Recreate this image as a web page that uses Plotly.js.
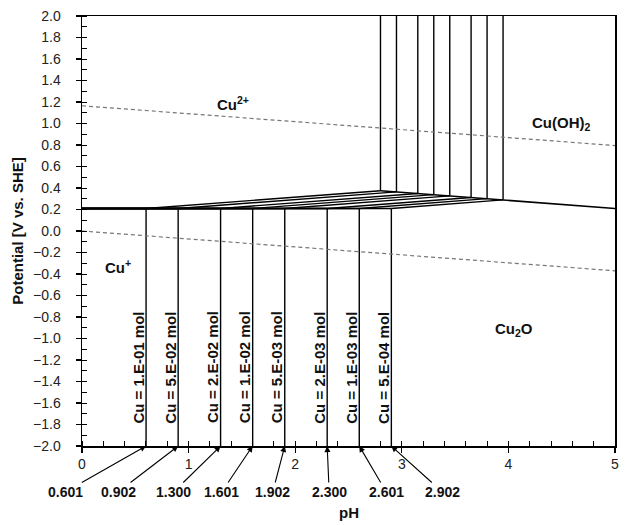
<!DOCTYPE html>
<html>
<head>
<meta charset="utf-8">
<script src="https://cdn.plot.ly/plotly-3.0.1.min.js"></script>
<style>html,body{margin:0;padding:0;background:#fff;}#chart{width:625px;height:525px;}</style>
</head>
<body>
<div id="chart"></div>
<script>
// ---- data ----
const concLabels = ['Cu = 1.E-01 mol','Cu = 5.E-02 mol','Cu = 2.E-02 mol','Cu = 1.E-02 mol',
                    'Cu = 5.E-03 mol','Cu = 2.E-03 mol','Cu = 1.E-03 mol','Cu = 5.E-04 mol'];
const pHCu2O = [0.601, 0.902, 1.300, 1.601, 1.902, 2.300, 2.601, 2.902];   // Cu+ / Cu2O boundary
const pHLabels = ['0.601','0.902','1.300','1.601','1.902','2.300','2.601','2.902'];
const pHHyd  = [2.80, 2.95, 3.15, 3.30, 3.45, 3.65, 3.80, 3.95];            // Cu2+ / Cu(OH)2 boundary
const eVertex = [0.375, 0.364, 0.349, 0.338, 0.327, 0.312, 0.301, 0.290];  // Cu2+/Cu(OH)2/Cu2O points
const eCuPlus = 0.21;                                                      // Cu2+ / Cu+ boundary
const hydEndPH = 5, hydEndE = 0.21;                                        // Cu(OH)2/Cu2O line end
const waterPH = [0, 5];
const o2E = [1.165, 0.795];
const h2E = [0.0, -0.37];
const eMin = -2.0, eMax = 2.0;
const regionNames = ['Cu<sup>2+</sup>', 'Cu(OH)<sub>2</sub>', 'Cu<sup>+</sup>', 'Cu<sub>2</sub>O'];
const regionPH = [1.42, 4.5, 0.34, 4.05];
const regionE  = [1.19, 1.0, -0.33, -0.92];
const xTickVals = [0, 1, 2, 3, 4, 5];

// ---- build boundary lines ----
const lx = [], ly = [];
function seg(x0, y0, x1, y1){ lx.push(x0, x1, null); ly.push(y0, y1, null); }
for (let i = 0; i < pHCu2O.length; i++) {
  seg(0, eCuPlus, pHCu2O[i], eCuPlus);
  seg(pHCu2O[i], eMin, pHCu2O[i], eCuPlus);
  seg(pHCu2O[i], eCuPlus, pHHyd[i], eVertex[i]);
  seg(pHHyd[i], eVertex[i], pHHyd[i], eMax);
}
const hx = pHHyd.concat([hydEndPH]);
const hy = eVertex.concat([hydEndE]);

const traces = [
  {x: lx, y: ly, mode: 'lines', line: {color: '#000', width: 1.4}, hoverinfo: 'skip', showlegend: false},
  {x: hx, y: hy, mode: 'lines', line: {color: '#000', width: 1.6}, hoverinfo: 'skip', showlegend: false},
  {x: waterPH, y: o2E, mode: 'lines', line: {color: '#777', width: 1.2, dash: '4px,3px'}, showlegend: false},
  {x: waterPH, y: h2E, mode: 'lines', line: {color: '#777', width: 1.2, dash: '4px,3px'}, showlegend: false}
];

const FONT = 'Liberation Sans, Arial, sans-serif';
const annotations = [];
for (let i = 0; i < regionNames.length; i++) {
  annotations.push({x: regionPH[i], y: regionE[i], xref: 'x', yref: 'y', text: '<b>' + regionNames[i] + '</b>',
    showarrow: false, font: {family: FONT, size: 15, color: '#111'}});
}
for (let i = 0; i < concLabels.length; i++) {
  annotations.push({x: pHCu2O[i], y: -1.27, xref: 'x', yref: 'y', xshift: -8, textangle: -90,
    text: '<b>' + concLabels[i] + '</b>', showarrow: false, font: {family: FONT, size: 15, color: '#111'}});
}
const arrowAx = [-81, -60, -47, -31, -12, 2, 27, 51];
for (let i = 0; i < pHLabels.length; i++) {
  annotations.push({x: pHCu2O[i], y: eMin, xref: 'x', yref: 'y', text: '<b>' + pHLabels[i] + '</b>',
    showarrow: true, arrowhead: 2, arrowsize: 1.1, arrowwidth: 1.1, arrowcolor: '#000',
    ax: arrowAx[i], ay: 46, font: {family: FONT, size: 14, color: '#111'}});
}
annotations.push({x: 0.5, y: 0, xref: 'paper', yref: 'paper', yanchor: 'middle', yshift: -66, text: '<b>pH</b>',
  showarrow: false, font: {family: FONT, size: 15, color: '#111'}});

const layout = {
  width: 625, height: 525,
  margin: {l: 82, r: 10, t: 16, b: 79},
  paper_bgcolor: '#fff', plot_bgcolor: '#fff',
  font: {family: FONT, size: 14, color: '#222'},
  showlegend: false,
  xaxis: {range: [0, 5], tickvals: xTickVals, ticks: 'outside', ticklen: 5, tickwidth: 1.2, tickcolor: '#000',
    showline: true, linecolor: '#000', linewidth: 1.5, mirror: true, showgrid: false, zeroline: false,
    minor: {dtick: 0.2, ticks: 'inside', ticklen: 5, tickcolor: '#000', tickwidth: 1, showgrid: false},
    tickfont: {family: FONT, size: 14, color: '#222'}},
  yaxis: {range: [eMin, eMax], dtick: 0.2, tick0: 0, tickformat: '.1f', ticks: 'outside', ticklen: 5, tickwidth: 1.2,
    tickcolor: '#000', showline: true, linecolor: '#000', linewidth: 1.5, mirror: true, showgrid: false, zeroline: false,
    ticklabelstandoff: 12,
    minor: {dtick: 0.1, ticks: 'inside', ticklen: 5, tickcolor: '#000', tickwidth: 1, showgrid: false},
    tickfont: {family: FONT, size: 14, color: '#222'},
    title: {text: '<b>Potential [V vs. SHE]</b>', font: {family: FONT, size: 15, color: '#111'}, standoff: 6}},
  annotations: annotations
};

Plotly.newPlot('chart', traces, layout, {staticPlot: true, displayModeBar: false});
</script>
</body>
</html>
